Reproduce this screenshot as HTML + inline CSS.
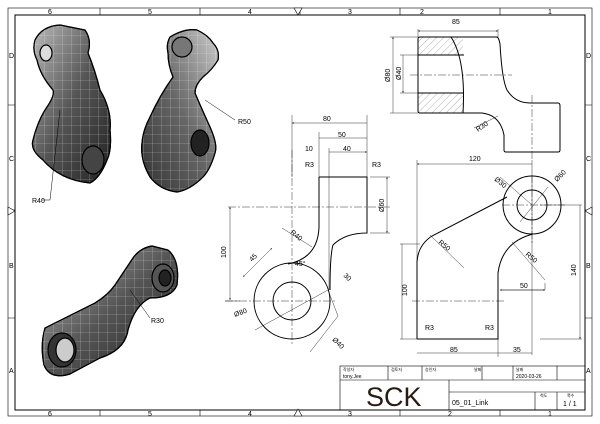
<!DOCTYPE html>
<html><head><meta charset="utf-8"><style>
body{margin:0;background:#fff}
svg{display:block;font-family:"Liberation Sans",sans-serif}
</style></head><body>
<svg width="600" height="424" viewBox="0 0 600 424" xmlns="http://www.w3.org/2000/svg">
<defs>
<linearGradient id="g1" x1="0" y1="0" x2="1" y2="1"><stop offset="0" stop-color="#bbb"/><stop offset="0.5" stop-color="#555"/><stop offset="1" stop-color="#222"/></linearGradient>
<linearGradient id="g2" x1="1" y1="0" x2="0" y2="1"><stop offset="0" stop-color="#ccc"/><stop offset="0.5" stop-color="#666"/><stop offset="1" stop-color="#333"/></linearGradient>
<pattern id="grid" width="9" height="9" patternUnits="userSpaceOnUse"><path d="M9 0V9M0 9H9" stroke="#fff" stroke-opacity="0.55" stroke-width="0.6" fill="none"/></pattern>
<pattern id="hatch" width="5" height="5" patternUnits="userSpaceOnUse" patternTransform="rotate(45)"><path d="M0 0V5" stroke="#666" stroke-width="0.5"/></pattern>
<marker id="a" viewBox="0 0 6 6" refX="6" refY="3" markerWidth="5" markerHeight="5" orient="auto-start-reverse"><path d="M0 1L6 3L0 5z" fill="#000"/></marker>
<path id="p1" d="M35 40Q42 26 60 25L85 30Q92 40 88 53Q95 70 100 90Q112 110 110 130Q112 150 107 160Q100 178 90 183Q60 180 43 160Q30 150 33 140Q38 120 47 107Q55 95 53 90Q40 75 37 60Q32 50 35 40z"/>
<path id="p2" d="M170 37Q185 28 197 30Q208 35 213 43Q220 50 218 60Q212 70 203 77Q195 85 195 93Q200 105 210 127Q218 145 215 153Q210 170 203 177Q190 190 177 192Q160 190 150 177Q140 160 142 143Q143 130 150 117Q160 95 173 77Q168 65 168 53Q166 44 170 37z"/>
<path id="p3" d="M45 328L95 303Q108 295 115 285L133 258Q140 248 152 246L168 250Q180 260 177 285Q172 298 150 298Q135 305 128 330Q125 350 100 358L70 374Q50 380 44 365Q40 345 45 328z"/>
</defs>
<g fill="none" stroke="#000">
<rect x="8" y="8" width="584" height="408" stroke-width="0.6"/>
<rect x="15" y="15" width="570" height="395" stroke-width="1"/>
<path d="M100 8V15M200 8V15M300 8V15M400 8V15M500 8V15M100 410V416M200 410V416M400 410V416M500 410V416M8 105H15M8 210H15M8 318H15M585 105H592M585 210H592M585 318H592" stroke-width="0.6"/>
</g>
<g font-size="7" fill="#000">
<text x="48" y="14">6</text><text x="148" y="14">5</text><text x="248" y="14">4</text><text x="348" y="14">3</text><text x="420" y="14">2</text><text x="548" y="14">1</text>
<text x="48" y="416">6</text><text x="148" y="416">5</text><text x="248" y="416">4</text><text x="348" y="416">3</text><text x="448" y="416">2</text><text x="548" y="416">1</text>
<text x="9" y="58">D</text><text x="9" y="161">C</text><text x="9" y="268">B</text><text x="9" y="373">A</text>
<text x="586" y="58">D</text><text x="586" y="161">C</text><text x="586" y="268">B</text><text x="586" y="373">A</text>
</g>
<path d="M294 8H302L298 15z M294 416H302L298 409z M8 207V215L15 211z M592 207V215L585 211z" fill="#fff" stroke="#000" stroke-width="0.6"/>

<!-- iso parts -->
<g stroke="#000" stroke-width="1.2">
<use href="#p1" fill="url(#g1)"/>
<use href="#p1" fill="url(#grid)"/>
<ellipse cx="46" cy="53" rx="6" ry="8" fill="#ddd"/>
<ellipse cx="93" cy="160" rx="11" ry="14" fill="#444"/>
<use href="#p2" fill="url(#g2)"/>
<use href="#p2" fill="url(#grid)"/>
<ellipse cx="182" cy="47" rx="10" ry="10" fill="#777"/>
<ellipse cx="200" cy="143" rx="9" ry="13" fill="#222"/>
<use href="#p3" fill="url(#g1)"/>
<use href="#p3" fill="url(#grid)"/>
<ellipse cx="62" cy="350" rx="14" ry="17" fill="#333"/>
<ellipse cx="65" cy="350" rx="9" ry="12" fill="#ccc"/>
<ellipse cx="163" cy="278" rx="11" ry="14" fill="#555"/>
<ellipse cx="165" cy="278" rx="6" ry="8" fill="#222"/>
</g>
<g stroke="#000" stroke-width="0.5" fill="none">
<path d="M60 110L50 200H42M205 100L235 120M130 290L150 318"/>
</g>
<g font-size="7"><text x="32" y="203">R40</text><text x="238" y="124">R50</text><text x="151" y="323">R30</text></g>

<!-- front view -->
<g fill="none" stroke="#000" stroke-width="1">
<path d="M319 177H367V233Q345 233 333 245Q330 255 330 290"/>
<path d="M319 177V227Q318 258 288 264"/>
<circle cx="292" cy="301" r="38"/>
<circle cx="292" cy="301" r="19"/>
</g>
<g fill="none" stroke="#000" stroke-width="0.4">
<path d="M292 150V345M225 301H335M228 207H390" stroke-dasharray="8 2 2 2"/>
<path d="M292 123H367M319 138H367M329 152H367" marker-start="url(#a)" marker-end="url(#a)"/>
<path d="M292 115V177M319 132V177M367 115V177M329 148V290"/>
<path d="M230 207V300" marker-start="url(#a)" marker-end="url(#a)"/>
<path d="M387 177V233" marker-start="url(#a)" marker-end="url(#a)"/>
<path d="M370 177H390M370 233H390M225 301H240"/>
<path d="M243 277L272 248" marker-start="url(#a)" marker-end="url(#a)"/>
<path d="M255 330L328 290L338 316L310 352" />
<path d="M282 228L312 247"/>
</g>
<g font-size="7">
<text x="323" y="121">80</text><text x="338" y="137">50</text><text x="305" y="151">10</text><text x="343" y="151">40</text>
<text x="305" y="167">R3</text><text x="372" y="167">R3</text>
<text x="226" y="258" transform="rotate(-90 226 258)">100</text>
<text x="384" y="212" transform="rotate(-90 384 212)">Ø60</text>
<text x="290" y="233" transform="rotate(40 290 233)">R40</text>
<text x="252" y="262" transform="rotate(-45 252 262)">45</text>
<text x="295" y="266">45°</text><text x="343" y="276" transform="rotate(45 343 276)">30</text>
<text x="235" y="317" transform="rotate(-20 235 317)">Ø80</text>
<text x="332" y="340" transform="rotate(45 332 340)">Ø40</text>
</g>

<!-- top view -->
<rect x="418" y="37" width="45" height="76" fill="url(#hatch)"/>
<rect x="418" y="55" width="48" height="38" fill="#fff"/>
<g fill="none" stroke="#000" stroke-width="1">
<path d="M420 37H497Q499 38 500 44Q502 80 507 90Q515 103 530 103H558Q560 103 560 106V150Q560 152 558 152H506Q504 152 504 150V135Q500 115 482 113H420Q418 113 418 111V39Q418 37 420 37z"/>
<path d="M451 37Q466 60 463 113M418 55H464M418 93H464"/>
</g>
<g fill="none" stroke="#000" stroke-width="0.4">
<path d="M418 31H498" marker-start="url(#a)" marker-end="url(#a)"/>
<path d="M418 29V37M498 29V37M390 37H418M390 113H418M400 55H418M400 93H418"/>
<path d="M393 37V113M403 55V93" marker-start="url(#a)" marker-end="url(#a)"/>
<path d="M410 75H512M532 95V160" stroke-dasharray="8 2 2 2"/>
<path d="M474 128L498 116"/>
</g>
<g font-size="7"><text x="452" y="24">85</text>
<text x="390" y="82" transform="rotate(-90 390 82)">Ø80</text>
<text x="401" y="80" transform="rotate(-90 401 80)">Ø40</text>
<text x="478" y="132" transform="rotate(-35 478 132)">R30</text></g>

<!-- right view -->
<g fill="none" stroke="#000" stroke-width="1">
<path d="M417 339V262Q418 245 432 236L507 197"/>
<path d="M417 339H498V273Q502 242 533 234"/>
<circle cx="532" cy="205" r="29"/><circle cx="532" cy="205" r="15"/>
</g>
<g fill="none" stroke="#000" stroke-width="0.4">
<path d="M417 164H532M417 353H498M498 353H532M402 244V339M580 205V339" marker-start="url(#a)" marker-end="url(#a)"/>
<path d="M417 160V339M532 160V355M400 244H420M400 339H420M498 339V357M540 205H582M540 339H582M500 290H545V283"/>
<path d="M500 290H545" marker-start="url(#a)" marker-end="url(#a)"/>
<path d="M412 301H505M532 175V245M502 205H565" stroke-dasharray="8 2 2 2"/>
<path d="M430 235L464 268M512 242L545 280M500 177L532 205M548 187L520 222"/>
</g>
<g font-size="7"><text x="469" y="161">120</text>
<text x="407" y="296" transform="rotate(-90 407 296)">100</text>
<text x="576" y="276" transform="rotate(-90 576 276)">140</text>
<text x="520" y="288">50</text><text x="450" y="352">85</text><text x="513" y="352">35</text>
<text x="425" y="330">R3</text><text x="485" y="330">R3</text>
<text x="438" y="243" transform="rotate(40 438 243)">R50</text>
<text x="525" y="255" transform="rotate(40 525 255)">R50</text>
<text x="494" y="180" transform="rotate(40 494 180)">Ø30</text>
<text x="557" y="182" transform="rotate(-45 557 182)">Ø60</text></g>

<!-- title block -->
<g fill="none" stroke="#000" stroke-width="0.6">
<rect x="340" y="366" width="245" height="44"/>
<path d="M340 380H585M388 366V380M422 366V380M482 366V380M513 366V380M557 366V380M449 380V410M449 392H585M535 392V410M557 392V410"/>
</g>
<g font-size="4" fill="#000"><text x="343" y="371">작성자</text><text x="391" y="371">검토자</text><text x="425" y="371">승인자</text><text x="474" y="371">날짜</text><text x="516" y="371">날짜</text><text x="540" y="397">척도</text><text x="567" y="397">쪽수</text></g>
<text x="343" y="378" font-size="5">tony.Jee</text>
<text x="516" y="378" font-size="5">2020-03-26</text>
<text x="366" y="406" font-size="27" fill="#2a1a14">SCK</text>
<text x="452" y="405" font-size="7">05_01_Link</text>
<text x="563" y="406" font-size="7">1 / 1</text>
</svg>
</body></html>
